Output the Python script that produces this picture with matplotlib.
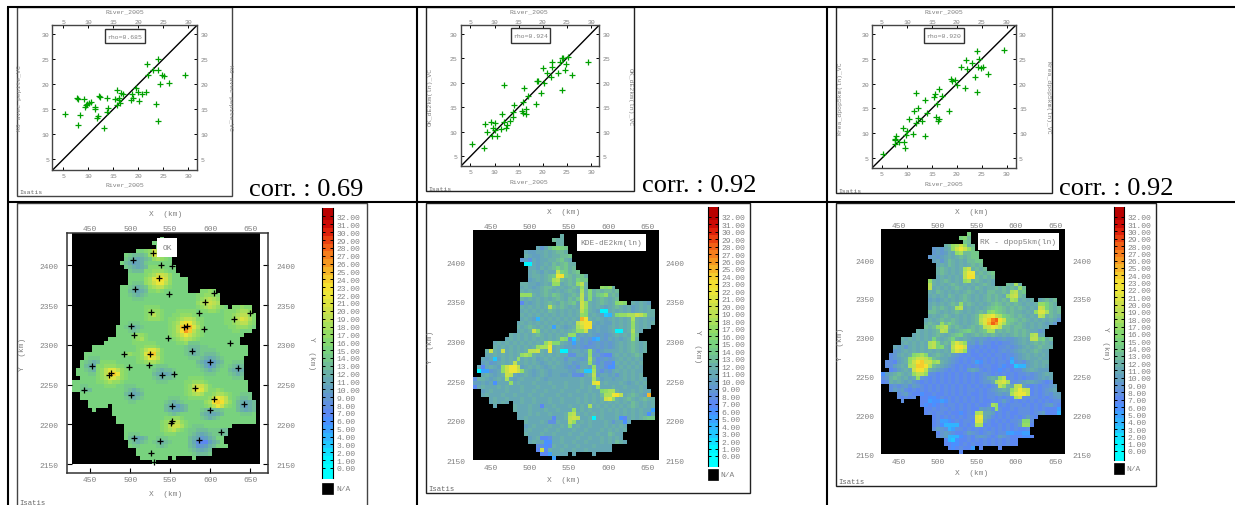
import numpy as np
import matplotlib
matplotlib.use("Agg")
import matplotlib.pyplot as plt
from matplotlib.colors import ListedColormap, BoundaryNorm
from matplotlib.patches import Rectangle

W, H = 1235, 506
MONO = "Liberation Mono"
GREY = "#808080"

# ---- scatter data (River_2005 against each estimate)
RIVER_KO = [5.3, 7.8, 7.9, 8.3, 7.9, 9.1, 9.3, 9.5, 9.8, 10.2, 10.5, 11.3, 11.4, 11.8, 11.9, 12.2, 12.3, 13.7, 13.7, 13.9, 13.1, 15.3, 15.7, 15.8, 16.1, 16.2, 16.4, 16.5, 17.0, 18.5, 18.7, 18.9, 19.5, 19.9, 20.2, 20.7, 21.5, 21.8, 22.0, 23.0, 23.6, 23.9, 23.9, 24.0, 24.3, 24.7, 25.1, 26.1, 29.3]
EST_KO = [14.1, 17.2, 17.1, 13.9, 11.9, 17.0, 15.4, 15.8, 16.1, 16.3, 16.5, 15.0, 15.5, 13.3, 13.7, 17.6, 17.5, 17.3, 14.5, 15.3, 11.3, 17.1, 15.8, 18.9, 17.3, 16.8, 16.3, 18.2, 18.1, 16.9, 18.1, 17.3, 19.2, 18.5, 16.7, 18.0, 18.5, 24.1, 21.8, 22.9, 16.1, 25.0, 22.9, 12.7, 20.0, 21.8, 21.6, 20.3, 21.8]
RIVER_DE = [5.4, 7.8, 8.0, 8.4, 9.3, 9.4, 9.6, 10.1, 10.0, 10.5, 11.4, 11.6, 12.0, 11.9, 12.3, 12.5, 13.2, 13.8, 13.8, 14.0, 15.6, 15.8, 16.1, 16.0, 16.5, 16.5, 16.9, 18.5, 18.8, 19.0, 19.6, 20.0, 20.2, 20.8, 21.6, 21.9, 22.0, 23.1, 23.6, 24.0, 24.0, 24.2, 24.5, 24.8, 25.2, 26.1, 29.3]
EST_DE = [7.5, 6.6, 11.5, 9.9, 12.1, 9.2, 10.7, 11.8, 10.4, 9.2, 10.6, 13.6, 19.5, 12.1, 10.7, 11.4, 12.2, 14.1, 13.1, 15.5, 14.2, 16.2, 19.0, 13.8, 14.7, 13.6, 17.3, 15.6, 20.3, 20.3, 17.9, 23.0, 20.0, 22.1, 21.2, 24.3, 23.2, 22.1, 24.3, 18.6, 25.0, 25.2, 22.7, 23.8, 25.4, 21.6, 24.3]
RIVER_KR = [5.3, 7.7, 7.9, 7.7, 7.7, 8.4, 9.4, 9.2, 9.6, 10.0, 9.8, 10.5, 11.2, 11.4, 11.8, 11.9, 12.3, 12.3, 13.1, 13.7, 13.7, 14.0, 15.4, 15.7, 15.8, 16.1, 16.2, 16.4, 16.5, 17.0, 18.5, 18.8, 19.0, 19.7, 20.0, 20.8, 21.6, 21.9, 22.0, 23.1, 23.7, 24.0, 24.1, 24.2, 24.4, 24.8, 25.2, 26.2, 29.4]
EST_KR = [5.9, 7.8, 9.4, 8.7, 8.8, 8.3, 8.3, 11.0, 7.0, 10.5, 9.6, 12.8, 9.9, 14.4, 12.0, 18.1, 15.1, 13.1, 12.5, 16.6, 9.5, 14.1, 17.3, 17.9, 13.2, 15.9, 12.4, 12.9, 19.0, 17.5, 14.5, 20.9, 20.5, 20.7, 19.7, 23.4, 19.2, 24.8, 22.9, 24.2, 21.3, 26.6, 18.4, 23.4, 25.0, 23.1, 23.3, 22.0, 26.8]

# ---- sampled stations shown on the OK map (km)
STATION_X = [528.3, 504.2, 539.2, 552.5, 536.0, 505.8, 548.3, 604.6, 593.8, 525.8, 585.8, 650.0, 630.4, 501.3, 571.7, 567.9, 592.9, 505.4, 547.9, 624.6, 577.9, 525.0, 492.9, 599.6, 524.2, 452.9, 498.3, 635.0, 476.2, 473.8, 555.0, 540.4, 580.8, 441.7, 500.8, 605.4, 642.9, 552.0, 600.0, 552.5, 550.8, 613.3, 505.4, 585.8, 537.5, 526.3, 529.6]
STATION_Y = [2415.9, 2407.0, 2400.0, 2399.0, 2383.7, 2370.7, 2363.6, 2364.8, 2353.5, 2341.8, 2340.0, 2339.7, 2333.0, 2323.8, 2324.2, 2322.0, 2320.4, 2312.0, 2308.7, 2302.0, 2292.8, 2289.0, 2289.0, 2278.0, 2275.0, 2274.0, 2272.0, 2271.4, 2264.3, 2262.6, 2263.9, 2262.6, 2246.3, 2243.4, 2237.0, 2231.7, 2226.0, 2222.9, 2218.7, 2204.9, 2201.5, 2191.0, 2183.0, 2180.0, 2179.7, 2163.7, 2152.5]

# ---- map grid: 5 km cells, colour codes are base 36 (f = 15, n = 23 ...)
GRID_X0, GRID_Y_TOP, CELL = 427.5, 2435.0, 5.0
N_COLS, N_ROWS = 47, 57

ROW_SPANS = [
    [(22, 22)], [(20, 22)], [(21, 22)], [(16, 23)], [(13, 23)], [(13, 24)], [(12, 24)], [(13, 25)],
    [(14, 25)], [(14, 26)], [(14, 28)], [(14, 28)], [(12, 28)], [(12, 28), (32, 35)], [(12, 36)],
    [(12, 36)], [(12, 36)], [(12, 38), (40, 44)], [(12, 44)], [(12, 45)], [(12, 45)], [(12, 45)],
    [(11, 45)], [(11, 44)], [(11, 42)], [(9, 41)], [(8, 41)], [(5, 43)], [(5, 43)], [(3, 43)],
    [(3, 42)], [(2, 42)], [(2, 42)], [(1, 42)], [(1, 42)], [(2, 42)], [(0, 43)], [(0, 43)], [(0, 43)],
    [(2, 44)], [(2, 44)], [(4, 45)], [(4, 8), (10, 45)], [(5, 5), (10, 45)], [(10, 45)], [(11, 45)],
    [(11, 45)], [(13, 39)], [(13, 38)], [(13, 38)], [(13, 37)], [(14, 37)], [(14, 38)], [(16, 34)],
    [(16, 34)], [(17, 23), (25, 25), (30, 30)], [(20, 20)],
]

OK_BASE = "f"
OK_SPOTS = [
    (3, 18, "ghkjhg"), (4, 18, "ghlkhg"), (5, 18, "gghihg"),
    (4, 14, "eddde"), (5, 13, "edcbcde"), (6, 13, "dcabce"), (7, 13, "edcbcde"), (8, 14, "eddde"),
    (7, 19, "gggg"), (8, 18, "gghhhg"), (9, 18, "ghikkjh"), (10, 18, "hilnnkh"), (11, 18, "hikmmjh"), (12, 18, "ghijjhg"), (13, 19, "gghg"),
    (11, 15, "eee"), (12, 14, "edcde"), (13, 14, "dcbcd"), (14, 14, "edcde"), (15, 15, "eee"),
    (13, 32, "gghg"), (14, 31, "gghhhg"), (15, 31, "ghijihg"), (16, 31, "hijkjih"), (17, 31, "ghijihg"), (18, 32, "gghhg"),
    (17, 18, "gggg"), (18, 18, "ghhhg"), (19, 18, "ghjhg"), (20, 18, "ghhhg"),
    (17, 40, "gghgg"), (18, 38, "ggghiihg"), (19, 38, "gghijjhg"), (20, 38, "gghjlkig"), (21, 38, "gghijjhg"), (22, 39, "gghhhg"), (23, 40, "gg"),
    (21, 14, "eee"), (22, 13, "edcde"), (23, 14, "ede"),
    (18, 26, "ggggg"), (19, 25, "gghhhgg"), (20, 24, "gghijjigg"), (21, 24, "ghilnmjhg"), (22, 24, "ghjoqplig"), (23, 24, "ghjnqojhg"), (24, 24, "ghikmkihg"), (25, 25, "ghijihg"), (26, 26, "gghgg"),
    (24, 15, "ghhg"), (25, 15, "ghig"), (26, 15, "gghg"),
    (26, 29, "eee"), (27, 28, "edddee"), (28, 28, "edcde"), (29, 28, "edcde"), (30, 29, "eee"),
    (26, 17, "gggg"), (27, 16, "gghhhg"), (28, 16, "ghjlljg"), (29, 16, "ghlooig"), (30, 16, "ghjmljg"), (31, 16, "gghiihg"),
    (29, 13, "ghg"),
    (28, 33, "eee"), (29, 32, "eddde"), (30, 31, "edcbcde"), (31, 31, "dca9acd"), (32, 31, "edb9bde"), (33, 32, "edcde"), (34, 33, "eee"),
    (30, 4, "eee"), (31, 3, "edcde"), (32, 3, "dcbcd"), (33, 3, "edcde"), (34, 4, "eee"),
    (31, 40, "eee"), (32, 39, "edcde"), (33, 39, "dcbcd"), (34, 39, "edcde"), (35, 40, "eee"),
    (31, 7, "gggg"), (32, 6, "gghhhgg"), (33, 6, "ghjlljhg"), (34, 6, "ghjnomhg"), (35, 6, "ghilljhg"), (36, 6, "gghihhg"), (37, 8, "ggg"),
    (32, 21, "eee"), (33, 20, "edcdde"), (34, 20, "dcbbcd"), (35, 20, "edcdde"), (36, 21, "eee"),
    (35, 29, "gggg"), (36, 28, "gghhhg"), (37, 28, "ghjkkig"), (38, 28, "ghkmlig"), (39, 28, "ghijihg"), (40, 29, "gggg"),
    (37, 2, "ee"), (38, 2, "edd"),
    (37, 13, "eee"), (38, 13, "edcde"), (39, 13, "dcbcd"), (40, 13, "edcde"), (41, 14, "ee"),
    (38, 34, "gghg"), (39, 33, "gghiihg"), (40, 33, "ghjmljg"), (41, 33, "hinonjh"), (42, 33, "ghjmkhg"), (43, 34, "gghg"),
    (39, 42, "eee"), (40, 41, "eddee"), (41, 41, "dcbcde"), (42, 41, "dbacd"), (43, 41, "dcbcd"), (44, 42, "eee"),
    (40, 24, "eee"), (41, 23, "edcde"), (42, 23, "dcbacd"), (43, 23, "dcbbcd"), (44, 24, "ede"),
    (43, 32, "edcdde"), (44, 32, "dcbbcd"), (45, 32, "edcde"),
    (45, 23, "gghhg"), (46, 22, "ghijjhg"), (47, 22, "ghjkkig"), (48, 22, "ghijhg"), (49, 23, "ggg"),
    (48, 36, "eddd"), (49, 36, "edde"),
    (49, 14, "eee"), (50, 14, "dcbcd"), (51, 14, "edcde"), (52, 15, "ee"),
    (50, 21, "eee"), (51, 20, "edcde"), (52, 21, "ede"),
    (47, 30, "eee"), (48, 29, "eedddee"), (49, 29, "edcbcde"), (50, 29, "dcb9acd"), (51, 29, "db877acd"), (52, 29, "dc99acd"), (53, 29, "edcbcde"), (54, 30, "eddde"),
]

KDE_ROWS = [
    "c", "dcc", "cc", "b9bdfgfe", "baabbcbcddc", "cbaabcbccdde", "9a8babbccdecb", "bababcbdcdecc", "bbacbcdfdecd",
    "bcbacbbdfecdec", "bccbcdedfedcdec", "abcbcdecdcdcfee", "ccbbabcbdcbcdcdgc", "bcbabcddcbcbcdcfcdedc",
    "cbcbbcdcbcbcdcbdcgcdcddcd", "fgfcbcdcedcbcdcecgcefdcdc", "cbcbcbcbcdcbdcecbgbcdcbcd", "cbabcbcdcbdcdebchcbcdcbcgcbcbcbab",
    "cbcbcbcbdcdcbcbchcbcbabcdcbcabcbc", "bcbcbcbdcbcbcbccgcbabcbcbcbcabcbcc", "cbcbcbcbcbcbcbcbgbcbabbcbcdcdcbcccc",
    "bcbabcbcbcbcbcbcbcbcbabcbcbcdcbcbb", "bcbcbcbcbcbcbcbcbcbbabaacbcbcdcbcbcb", "cbcdcbcbcdcbabcbcbbabaabcbcbcdcbcbc",
    "bcbcdgbcbcbcbcdcbababaabcbcbcdcbb", "cbcbcbcdcbcbcbcdcababa9a9abcbcbcdcb", "bcbcbcbcbcbcbcbcdab9a9a9a9bababcdcbb",
    "bcbcbcbcbcbcbcbcdcba9a9a89a9a9abcbcdcbcb", "cbcbcbcbcbcbcbcbcbaa9a9899a9a9abcbcdcbcb", "cbcbkbcbcbcbcbcbcbcbbabbab9a8abbbbcbcdcbcc",
    "bbcbcbcbcbcbcbcbcbcbb9abbab9a89abcbcbcdcb", "babcacbcbcbcbcabcbcbb9bba9abb89a9abcbcbcb", "ab9abcbcbcbcbcbabcbcbab9abb9a8a9abcbcbcbc",
    "bbbcbabcbcbabcbcbabcbba9a8bbab9a89abcbcbcb", "abb9abcbcbcbcbabcbabbbba9bcbaba8a9bcbcbcbb", "bcbabcbcbabcbabcbabbaabbbbbcb9bbab9bcbcbc",
    "bccbabcbcbabcbbbcbabbbbbbbbcbbbcabbabbcbcbcb", "aababcbbbcbcbbbcbbbcbbbcbbbcbbbcbcbbbcbabcbc", "abcbbbcbcbbbcbbbcbbbcbbcbbbcbcbbbbbcbbcbbbcb",
    "abcbbbcbbbcbbcbbcbbbcbbbcbbcbbcbcbcbbbcbcbb", "bcbbbcbbcbbbcbbcbbbcbbcbbbcbcbdcbcbcbcdcbcc", "bcbbcbbbcbbcbbbcbbcbbbcbcbcbcbcbcbcdcbcdcc",
    "bcbcbbbcbbcbbbcbbcbbbcbcbcbcbcbcbcbdcbcbc", "bcbbbcbbcbbcbbbcbbcbcbcbcbcbcbcdcbcbcbd", "cbbbcbbbcbbcbbbcbcbcbbcbcbcbcbcbcbbc",
    "bbbcbcbbcbbbcbbcbcbcbcbbbcbcbcbcbbb", "bbcbbbbbbcbbcbbcbbcbbcbbbcbbbcbcde", "cbbbcbbbcbb9bbcbcbbbcb9bbcbbb9b",
    "abcbbbcbbcbbbcbbcbbbcbcbcb", "bcbbbcbbcbbbcbbcbbbcbcbcbc", "cbbbcbbcbbbcbbcbbbcbbdcbb", "abcbbcbbcbbbcbbcbbcbcbcb",
    "bcbbcbbbcbbcbbcbbbcbcbdcb", "bbbbcbbcbbcbbbcbbbb", "bbbcbbcbbcbbcbbbbb", "bbbbbbbbb", "b",
]

KDE_SPOTS = [
    (7, 13, "11"), (9, 21, "j"), (10, 21, "mn"), (11, 20, "ij"), (12, 20, "hh"),
    (12, 26, "hj"), (13, 27, "h"), (14, 27, "i"), (15, 27, "j"), (16, 27, "j"), (17, 27, "k"), (18, 27, "k"), (19, 27, "j"), (20, 27, "h"),
    (21, 27, "pn"), (22, 26, "jlnn"), (23, 26, "iknn"), (24, 27, "hk"), (24, 26, "h"),
    (25, 24, "hh"), (26, 22, "hgg"), (27, 20, "gg"), (27, 18, "hk"), (28, 16, "hiik"), (28, 19, "m"), (29, 19, "m"),
    (29, 14, "jj"), (29, 16, "k"), (30, 12, "hi"), (30, 14, "h"), (31, 11, "h"), (32, 10, "j"),
    (33, 7, "hkmmj"), (34, 7, "hkmmkh"), (35, 8, "kj"), (36, 8, "i"), (37, 9, "h"), (29, 4, "k"),
    (29, 29, "h"), (30, 29, "h"), (31, 29, "i"), (32, 29, "h"), (33, 30, "h"), (34, 30, "i"), (35, 30, "j"), (36, 30, "i"), (37, 30, "ln"), (38, 31, "h"),
    (39, 32, "g"), (39, 33, "hii"), (40, 33, "iimnj"), (41, 33, "kl"), (41, 35, "h"),
    (43, 29, "i"), (44, 25, "h"), (45, 24, "ij"), (46, 24, "jkj"), (47, 24, "jh"), (48, 24, "g"),
    (17, 37, "hg"), (20, 36, "ghhiikjh"), (21, 40, "i"), (22, 40, "h"), (23, 40, "h"), (24, 40, "i"), (25, 40, "h"), (26, 40, "h"),
    (13, 32, "hgh"), (15, 33, "h"), (15, 12, "hhh"), (18, 19, "j"), (24, 15, "k"),
    (19, 32, "11"), (20, 33, "34"), (24, 36, "11"), (26, 24, "8"), (26, 25, "3"), (26, 30, "5"), (26, 31, "4"), (27, 25, "5"), (29, 22, "11"),
    (31, 5, "3"), (34, 1, "1"), (34, 2, "55"), (33, 2, "7"), (34, 28, "33"), (37, 5, "6"), (36, 0, "8"), (38, 0, "7"),
    (21, 16, "4"), (23, 20, "5"), (17, 12, "7"), (46, 30, "1"), (44, 45, "5"), (45, 44, "6"), (46, 37, "6"), (46, 38, "7"), (47, 38, "6"),
    (40, 44, "p"), (40, 43, "a"), (51, 17, "778"), (52, 18, "66"), (53, 16, "8867"), (54, 16, "7k7"), (55, 17, "775"), (56, 20, "5"),
    (30, 24, "88"), (30, 33, "77"), (32, 33, "886"), (33, 34, "66"), (35, 25, "887"), (47, 19, "88"), (46, 20, "7"), (43, 17, "7"),
]

RK_ROWS = [
    "f", "fgd", "ed", "cddcdbcd", "9a9bcdcbcde", "9a9acbcbddee", "9a9abcbcdcdee", "ab9bdcbcbddee", "bcbdcbcbcdcd",
    "cdcbcbcbccdcd", "cdcbcbcbcdcdcde", "bcbcbcbcbcdcdcd", "hcbcdcbcbcbcdcbcb", "gcbcbcdcbcbcbcdcbdcdce",
    "cbcbcbcdcbcbdcbccdcdcdccd", "cbdcbcbcbcdcbcbddccdcdcde", "bcbcbdcbcdcbcbcdcdcbcdcdc", "ababcbcbcdcbcbcdcdcdcdcbcbcbcdcdc",
    "bcbcbcdcdcdcbcbcdedcdcdcbcbcdefdcdc", "bdcdcbcdcbcbcbcdefedcdcdcbcbcefdcdcd", "ddcbcbcdcbcbcdcdefedcdccbcbdfefdcdcd",
    "bcbcdcbcbcbcdcdegggfedcdcbcbcdcdcbc", "bcbcdccdcbcbcdcdeffffeedcdcbcbcbcb9b9", "cdcbcdfdcbcbcdcdefefeedcdcbcbcbab9",
    "dcdcbcdcdcbcdcdefdfeddcddcbcbcbb", "cbcbcdcdcbcdefdcdefdcdcdcdcdcbb9a9a", "bcbcbcdcbcdefcbcdcdcdcbcbcdcdcfcbb9",
    "cbcbcbcbfcbcdfcbcba9a98989a99abcbcdefcdc9", "bcbcbcbcgfcdcfcba9a8a88787889abcbcdcdcb8", "bab9bcbcbcbfgcbcba98878787788989abcbcdc",
    "9abcbcbcbcbcbcba987878787878989abcbcdcb", "89bcbcbcbcbcdcbca9878778787887889abcbcbcb", "89abcbcbcdcdcbba98787877878787889abcbbcb",
    "887abcbdcbdefdcba9878787787878877898abcbc", "88abcbdcdefcdcba98787878788778677889abcbcb", "78abcbcbcdcba9878787aba87877678788abcba",
    "6abcdcbcbba98878787878787898787878788989abcb", "89cdcbcaba98787878787878789bcba878787889abab", "78cbcbab98787878787878787899bcb87889abba9878",
    "8989a8a987878787878787878789abcbcba8787889a", "8a9a87878787878787878878789abcbdbca878789ab", "89a87767787787878787787889a9a9ba98787898a",
    "8787877667878787878787887878787888878789a", "87776677878787878778 78a8787878787878", "767678788787878778787878887878789a87",
    "7787887878787 7a9a8787787888787877", "78788787767878abba787877888789a7", "787878787888aba878787878a87",
    "7878678788788a878787889ab8", "78677787878787877878 78ab7", "8a98778878787878787878778",
    "79a98778a987898788876655", "89a87667879a9878a98777667", "7766778787878787877", "7766787877878787877", "76787757", "7",
]
RK_ROWS = [row.replace(" ", "") for row in RK_ROWS]

RK_SPOTS = [
    (20, 27, "gh"), (21, 25, "iklmji"), (22, 25, "jlorsnk"), (23, 25, "ilpsqli"), (24, 26, "jkmlj"), (25, 27, "ii"),
    (31, 8, "ghig"), (32, 7, "hikkjh"), (33, 7, "hknokki"), (34, 7, "ijoonj"), (35, 8, "knnj"), (36, 8, "hjjh"), (37, 9, "h"),
    (28, 18, "iljh"), (29, 18, "jmnk"), (30, 18, "ilkh"),
    (9, 21, "ik"), (10, 21, "jmm"), (11, 21, "jnn"), (12, 21, "hi"),
    (3, 18, "hikh"), (4, 18, "hkmkh"), (5, 19, "hi"),
    (39, 34, "jk"), (40, 33, "hjmkj"), (41, 33, "ilmmj"), (42, 34, "ik"),
    (37, 30, "hj"), (38, 29, "ikli"), (39, 30, "jh"),
    (46, 24, "ij"), (47, 24, "lm"), (48, 24, "ll"), (49, 24, "ii"),
    (18, 40, "hh"), (19, 40, "kj"), (20, 39, "hlli"), (21, 40, "ji"),
    (15, 33, "ij"), (16, 32, "hjk"), (17, 33, "ih"),
    (18, 20, "h"), (19, 19, "ij"), (23, 15, "h"), (24, 14, "hij"), (25, 15, "ji"),
    (28, 12, "ij"), (29, 12, "ij"), (26, 38, "ij"), (27, 38, "jj"), (13, 12, "j"), (14, 12, "j"),
    (13, 34, "i"), (14, 35, "h"), (33, 13, "hi"), (34, 12, "i"), (44, 28, "ih"), (45, 29, "h"), (48, 36, "gg"), (49, 36, "hh"),
    (48, 15, "55"), (49, 16, "4444"), (50, 17, "45"), (42, 12, "66"), (43, 12, "5"), (43, 15, "56"), (52, 17, "444"), (53, 17, "43"),
    (51, 32, "55"), (33, 33, "4"), (34, 34, "344"), (32, 33, "5"), (33, 24, "56"), (46, 45, "4"), (45, 45, "5"), (36, 0, "6"),
]

LEVEL_COLORS = [
    "#00ffff", "#00f5ff", "#10e0ff", "#20c8ff", "#30b4ff", "#3ca0ff", "#4a90ff", "#5c88f2", "#6090e0", "#6298d0",
    "#62a0c0", "#66a8b4", "#6ab0a8", "#70bc98", "#74c88a", "#78d27e", "#84d870", "#94dc64", "#a8e05c", "#bce052",
    "#cce048", "#dce440", "#ece638", "#f4e030", "#f6cc2c", "#f6b428", "#f69820", "#f67e1c", "#f26016", "#ea4010",
    "#de200a", "#cc0a04", "#b80000",
]
COLORBAR_LEVELS = list(range(33))
SCATTER_TICKS = [5, 10, 15, 20, 25, 30]
MAP_X_TICKS = [450, 500, 550, 600, 650]
MAP_Y_TICKS = [2150, 2200, 2250, 2300, 2350, 2400]

cmap = ListedColormap(LEVEL_COLORS)
cmap.set_bad("black")
norm = BoundaryNorm(np.arange(-0.5, 33.5), 33)

fig = plt.figure(figsize=(W / 100, H / 100), dpi=100)


def box_axes(x0, y0, x1, y1, **kw):
    # pixel box, y measured from the top of the image
    return fig.add_axes([x0 / W, 1 - y1 / H, (x1 - x0) / W, (y1 - y0) / H], **kw)


def build_grid(rows, spots, base=None):
    grid = np.full((N_ROWS + 1, N_COLS), np.nan)
    for r, spans in enumerate(ROW_SPANS):
        cols = [c for a, b in spans for c in range(a, b + 1)]
        text = base * len(cols) if base else rows[r]
        text = text + text[-1] * (len(cols) - len(text))
        for c, ch in zip(cols, text):
            grid[r + 1, c] = int(ch, 36)
    for r, c0, codes in spots:
        for i, ch in enumerate(codes):
            if not np.isnan(grid[r + 1, c0 + i]):
                grid[r + 1, c0 + i] = int(ch, 36)
    return grid


def style_ticks(ax, ticks_x, size, top_pad, tick_len):
    # top labels sit closer to the frame than the bottom ones, so they get their own axis
    sec = ax.secondary_xaxis("top")
    sec.set_xticks(ticks_x)
    sec.tick_params(direction="in", length=tick_len, width=0.7, labelsize=size, labelcolor=GREY, pad=top_pad)
    for lab in sec.get_xticklabels():
        lab.set_family(MONO)
    sec.spines["top"].set_visible(False)
    for lab in ax.get_xticklabels() + ax.get_yticklabels():
        lab.set_family(MONO)


def draw_scatter(box, xs, ys, xlim, ylim):
    ax = box_axes(*box)
    ax.plot(xs, ys, "+", color="#00a000", ms=4, mew=0.9, zorder=3)
    ax.plot([xlim[0], xlim[1]], [ylim[0], ylim[1]], color="black", lw=1, zorder=2)
    ax.set_xlim(xlim)
    ax.set_ylim(ylim)
    ax.set_xticks(SCATTER_TICKS)
    ax.set_yticks(SCATTER_TICKS)
    ax.tick_params(direction="in", length=2.2, width=0.7, right=True, labelright=True,
                   labelsize=4.6, labelcolor=GREY, pad=2.2)
    style_ticks(ax, SCATTER_TICKS, 4.6, 0.4, 2.2)
    for s in ax.spines.values():
        s.set_color("#444444")
        s.set_linewidth(1)
    return ax


def draw_map(box, grid, xlim, ylim, frame=False, pads=(2, 5), top_pad=0):
    ax = box_axes(*box)
    ax.imshow(grid, extent=(GRID_X0, GRID_X0 + N_COLS * CELL, GRID_Y_TOP - N_ROWS * CELL, GRID_Y_TOP + CELL),
              cmap=cmap, norm=norm, interpolation="nearest", aspect="auto")
    ax.set_xlim(xlim)
    ax.set_ylim(ylim)
    ax.set_xticks(MAP_X_TICKS)
    ax.set_yticks(MAP_Y_TICKS)
    tick_len = 3.5 if frame else 0
    ax.tick_params(direction="in", length=tick_len, width=0.8, right=True, labelright=True,
                   labelsize=5.7, labelcolor=GREY)
    ax.tick_params(axis="x", pad=pads[0])
    ax.tick_params(axis="y", pad=pads[1])
    style_ticks(ax, MAP_X_TICKS, 5.7, top_pad, tick_len)
    for s in ax.spines.values():
        s.set_visible(frame)
        s.set_color("#333333")
        s.set_linewidth(1.1)
    return ax


def draw_colorbar(x0, x1, y_zero, px_per_unit, y_top, y_bottom):
    ax = box_axes(x0, y_top, x1, y_bottom)
    vals = np.array(COLORBAR_LEVELS)[:, None]
    ax.imshow(vals, extent=(0, 1, -0.5, 32.5), origin="lower", cmap=cmap, norm=norm, aspect="auto", interpolation="nearest")
    ax.fill_between([0, 1], 32.5, 40, color=LEVEL_COLORS[-1], lw=0)
    ax.fill_between([0, 1], -5, -0.5, color=LEVEL_COLORS[0], lw=0)
    ax.set_xlim(0, 1)
    ax.set_ylim((y_zero - y_bottom) / px_per_unit, (y_zero - y_top) / px_per_unit)
    ax.set_xticks([])
    ax.set_yticks(COLORBAR_LEVELS)
    ax.set_yticklabels([f"{v:.2f}" for v in COLORBAR_LEVELS], family=MONO, fontsize=5.8, color=GREY)
    ax.yaxis.tick_right()
    ax.tick_params(axis="y", direction="in", length=2, width=0.7, left=True, right=True, pad=2.5)
    ax.spines["top"].set_visible(False)
    ax.spines["bottom"].set_visible(False)
    for side in ("left", "right"):
        ax.spines[side].set_linewidth(0.8)


# ---- scatter row
draw_scatter((52.3, 26, 197.3, 171.3), RIVER_KO, EST_KO, (2.8, 31.8), (2.75, 31.8))
draw_scatter((460.7, 26, 599.3, 167.3), RIVER_DE, EST_DE, (3.0, 31.7), (2.95, 31.85))
draw_scatter((872, 26, 1016, 169), RIVER_KR, EST_KR, (3.0, 31.85), (3.0, 31.8))

# ---- map row
ok_ax = draw_map((67, 234, 268, 474), build_grid(None, OK_SPOTS, OK_BASE), (421, 672.5), (2139, 2440.6), frame=True, pads=(2, 6), top_pad=1)
ok_ax.plot(STATION_X, STATION_Y, "+", color="black", ms=5, mew=0.9, zorder=3)
ok_ax.set_xlim(421, 672.5)
ok_ax.set_ylim(2139, 2440.6)
draw_map((472, 231, 658, 462), build_grid(KDE_ROWS, KDE_SPOTS), (426.8, 663), (2149, 2440.8), pads=(2.5, 5), top_pad=0)
draw_map((881, 230, 1065, 457), build_grid(RK_ROWS, RK_SPOTS), (427, 662.8), (2148, 2440), pads=(1.5, 5), top_pad=0)

draw_colorbar(322, 333, 469, 7.86, 209, 479)
draw_colorbar(708, 718, 457, 7.48, 208, 467)
draw_colorbar(1114, 1124, 452, 7.32, 208, 461)

# ---- page overlay: table rules, frames, captions
page = fig.add_axes([0, 0, 1, 1], zorder=10)
page.set_xlim(0, W)
page.set_ylim(H, 0)
page.axis("off")
page.patch.set_alpha(0)


def frame(x0, y0, x1, y1, color="#444444", lw=1.0):
    page.add_patch(Rectangle((x0, y0), x1 - x0, y1 - y0, fill=False, ec=color, lw=lw))


def label(x, y, s, rot=0, size=4.6, ha="center", va="center", color=GREY):
    page.text(x, y, s, family=MONO, fontsize=size, color=color, rotation=rot, ha=ha, va=va)


def tag(x0, y0, x1, y1, s, size=4.6, lw=1.0):
    page.add_patch(Rectangle((x0, y0), x1 - x0, y1 - y0, fc="white", ec="#333333", lw=lw, zorder=4))
    page.text((x0 + x1) / 2, (y0 + y1) / 2, s, family=MONO, fontsize=size, color=GREY, ha="center", va="center", zorder=5)


# table lines
for y in (8, 203):
    page.plot([7, W], [y, y], color="black", lw=1.5, solid_capstyle="butt")
for x in (7.5, 417, 827):
    page.plot([x, x], [8, H], color="black", lw=1.5, solid_capstyle="butt")

# scatter panels
frame(17, 8, 232, 197)
frame(426, 8, 634, 192, color="#222222")
frame(836, 8, 1052, 194, color="#222222")
scatter_text = [
    (125, 12, 185, 20, 230, 98, "KO avec pepite_VC", 19, 192, 105, 30, 145, 44, "rho=0.685", 249, 196, "corr. : 0.69"),
    (529, 12, 182, 430, 630, 97, "OK_dE2km(ln)_VC", 428, 189, 511, 29, 550, 44, "rho=0.924", 642, 192, "corr. : 0.92"),
    (944, 12, 184, 840, 1048, 98, "Krea_dpop5km(ln)_VC", 838, 191, 924, 29, 964, 44, "rho=0.920", 1059, 195, "corr. : 0.92"),
]
for xc, ytop, ybot, xl, xr, yc, name, xi, yi, bx0, by0, bx1, by1, rho, xt, yt, corr in scatter_text:
    label(xc, ytop, "River_2005")
    label(xc, ybot, "River_2005")
    label(xl, yc, name, rot=90)
    label(xr, yc, name, rot=270)
    label(xi, yi, "Isatis", ha="left", color="#666666")
    tag(bx0, by0, bx1, by1, rho)
    page.text(xt, yt, corr, family="Liberation Serif", fontsize=19, color="black", ha="left", va="baseline")

# map panels
frame(17, 204, 367, 512)
frame(426, 204, 750, 494, color="#222222")
frame(836, 204, 1156, 487, color="#222222")
map_text = [
    (166, 214, 495, 23, 312, 354, 19, 504, 322, 333, 484, 495, 336),
    (564, 213, 481, 431, 698, 347, 428, 490, 708, 718, 470, 481, 720),
    (972, 213, 474, 841, 1105, 344, 838, 483, 1114, 1124, 464, 475, 1126),
]
for xc, ytop, ybot, xl, xr, yc, xi, yi, nx0, nx1, ny0, ny1, nt in map_text:
    label(xc, ytop, "X  (km)", size=5.7)
    label(xc, ybot, "X  (km)", size=5.7)
    label(xl, yc, "Y  (km)", rot=90, size=5.7)
    label(xr, yc, "Y  (km)", rot=270, size=5.7)
    label(xi, yi, "Isatis", ha="left", size=5.2, color="#666666")
    page.add_patch(Rectangle((nx0, ny0), nx1 - nx0, ny1 - ny0, fc="black", ec="black", lw=0.5))
    label(nt, (ny0 + ny1) / 2, "N/A", ha="left", size=5.7)

tag(157, 239, 177, 258, "OK", size=5.7, lw=0)
tag(577, 235, 646, 252, "KDE-dE2km(ln)", size=5.7, lw=0)
tag(978, 234, 1059, 251, "RK - dpop5km(ln)", size=5.7, lw=0)

fig.savefig("out.png", dpi=100)
